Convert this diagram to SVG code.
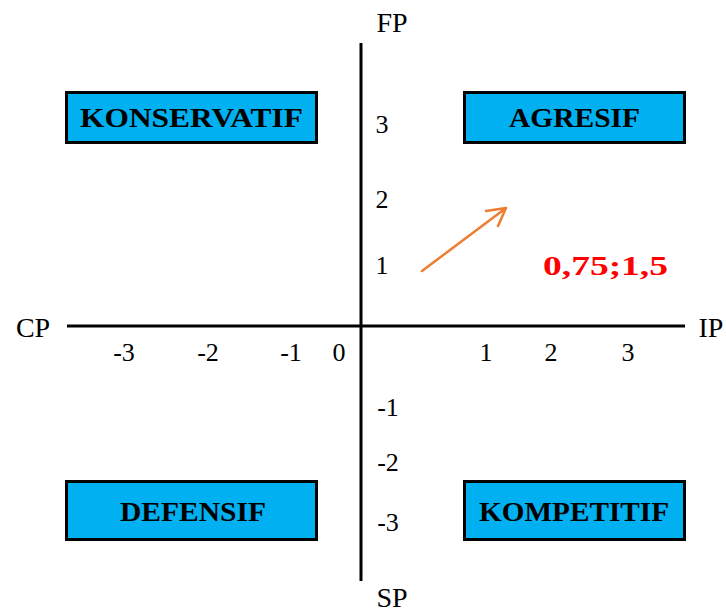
<svg xmlns="http://www.w3.org/2000/svg" width="726" height="614" viewBox="0 0 726 614">
<style>
.box{fill:#00B0F0;stroke:#000;stroke-width:3}
.bt{font-family:"Liberation Serif","DejaVu Serif",serif;font-weight:bold;font-size:27px;fill:#000;text-anchor:middle}
.t{font-family:"Liberation Serif","DejaVu Serif",serif;font-size:26px;fill:#000;text-anchor:middle}
.al{font-family:"Liberation Serif","DejaVu Serif",serif;font-size:28px;fill:#000;text-anchor:middle}
.ax{stroke:#000;stroke-width:3;fill:none}
</style>
<rect width="726" height="614" fill="#fff"/>
<g id="axes">
<line class="ax" x1="361" y1="43" x2="361" y2="581"/>
<line class="ax" x1="67" y1="326" x2="685" y2="326"/>
</g>
<g id="connectors">
<path d="M422,271 L506,208 M486,211 L506,208 L498,226" fill="none" stroke="#ED7D31" stroke-width="2.5" stroke-linecap="round" stroke-linejoin="round"/>
</g>
<g id="konservatif"><rect class="box" x="66.5" y="92.5" width="250" height="50"/><text class="bt" x="191.5" y="127" textLength="223" lengthAdjust="spacingAndGlyphs">KONSERVATIF</text></g>
<g id="agresif"><rect class="box" x="464.5" y="92.5" width="220" height="50"/><text class="bt" x="574.5" y="127" textLength="131" lengthAdjust="spacingAndGlyphs">AGRESIF</text></g>
<g id="defensif"><rect class="box" x="66.5" y="481.5" width="250" height="58"/><text class="bt" x="193" y="521" textLength="146" lengthAdjust="spacingAndGlyphs">DEFENSIF</text></g>
<g id="kompetitif"><rect class="box" x="464.5" y="481.5" width="220" height="58"/><text class="bt" x="574" y="521" textLength="190" lengthAdjust="spacingAndGlyphs">KOMPETITIF</text></g>
<g id="labels">
<text class="al" x="392" y="32">FP</text>
<text class="al" x="392" y="607">SP</text>
<text class="al" x="33" y="337">CP</text>
<text class="al" x="711" y="337">IP</text>
<text class="t" x="382" y="133">3</text>
<text class="t" x="382" y="208">2</text>
<text class="t" x="382" y="274">1</text>
<text class="t" x="388" y="416">-1</text>
<text class="t" x="388" y="471">-2</text>
<text class="t" x="388" y="531">-3</text>
<text class="t" x="124" y="361">-3</text>
<text class="t" x="208" y="361">-2</text>
<text class="t" x="291" y="361">-1</text>
<text class="t" x="339" y="361">0</text>
<text class="t" x="486" y="361">1</text>
<text class="t" x="551" y="361">2</text>
<text class="t" x="628" y="361">3</text>
<text x="605.5" y="275" font-family="Liberation Serif,DejaVu Serif,serif" font-weight="bold" font-size="27" fill="#FF0000" text-anchor="middle" textLength="125" lengthAdjust="spacingAndGlyphs">0,75;1,5</text>
</g>
</svg>
